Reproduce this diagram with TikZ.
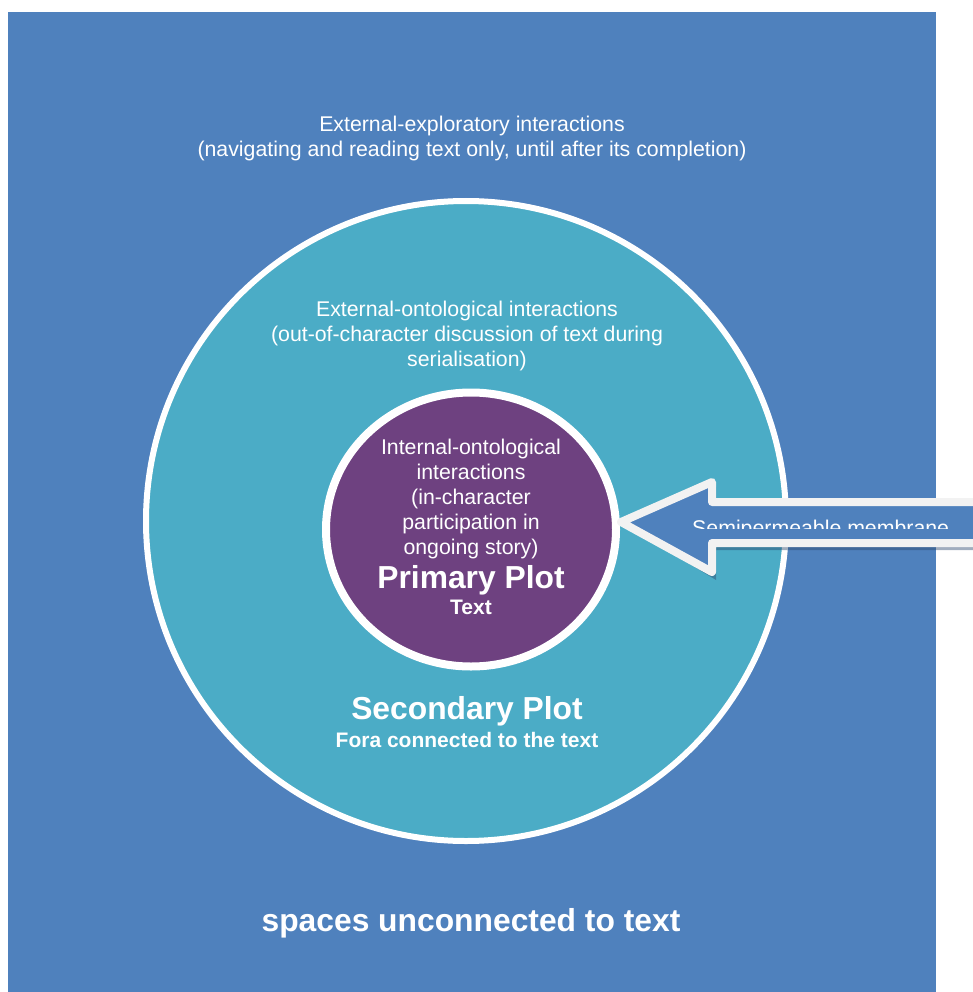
\documentclass[tikz,border=0pt]{standalone}
\usepackage{fontspec}
\setmainfont{Liberation Sans}
\definecolor{bgblue}{HTML}{4F81BD}
\definecolor{cyanc}{HTML}{4BACC6}
\definecolor{purp}{HTML}{6E4180}
\definecolor{arrowborder}{HTML}{F2F2F2}
\definecolor{shadowc}{HTML}{2E4A6E}
\tikzset{
  normtxt/.style={text=white, align=center, inner sep=0pt, font=\fontsize{21.3}{25}\selectfont},
  bigtxt/.style={text=white, align=center, inner sep=0pt, font=\fontsize{31.8}{36}\selectfont\bfseries},
  smallbold/.style={text=white, align=center, inner sep=0pt, font=\fontsize{21}{25}\selectfont\bfseries},
}
\begin{document}
\begin{tikzpicture}[x=1pt,y=-1pt]
\useasboundingbox (0,0) rectangle (972,992);
\fill[bgblue] (8,12) rectangle (936,992);
% outer circle
\draw[line width=6pt, white, fill=cyanc] (466,521) circle [radius=320pt];
% inner circle
\draw[line width=8pt, white, fill=purp] (471,529.5) ellipse [x radius=145pt, y radius=137pt];
% arrow shadow
\fill[shadowc, opacity=0.45] (627,526) -- (716,487) -- (716,506) -- (990,506) -- (990,550) -- (716,550) -- (716,580) -- cycle;
% arrow
\draw[line width=8pt, arrowborder, fill=bgblue, line join=round] (621,522) -- (712,482) -- (712,502) -- (990,502) -- (990,543) -- (712,543) -- (712,572) -- cycle;
% texts
\node[normtxt] (explo) at (472,138) {External-exploratory interactions\\(navigating and reading text only, until after its completion)};
\node[normtxt] (onto) at (467,336) {External-ontological interactions\\(out-of-character discussion of text during\\serialisation)};
\node[normtxt] (inner) at (471,499) {Internal-ontological\\interactions\\(in-character\\participation in\\ongoing story)};
\node[bigtxt] (primary) at (471,580) {Primary Plot};
\node[smallbold] (ptext) at (471,607) {Text};
\node[bigtxt] (secondary) at (467,711) {Secondary Plot};
\node[smallbold] (fora) at (467,740) {Fora connected to the text};
\node[bigtxt] (spaces) at (471,923) {spaces unconnected to text};
\begin{scope}
\clip (680,495) rectangle (972,528);
\node[normtxt, anchor=base west] (membrane) at (692,535) {Semipermeable membrane};
\end{scope}
\end{tikzpicture}
\end{document}
